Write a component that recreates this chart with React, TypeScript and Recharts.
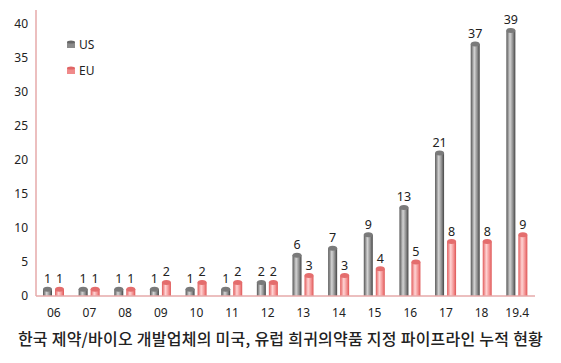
import React from "react";
import { BarChart, Bar, XAxis, YAxis, LabelList } from "recharts";

const categories = ["06", "07", "08", "09", "10", "11", "12", "13", "14", "15", "16", "17", "18", "19.4"];
const usValues = [1, 1, 1, 1, 1, 1, 2, 6, 7, 9, 13, 21, 37, 39];
const euValues = [1, 1, 1, 2, 2, 2, 2, 3, 3, 4, 5, 8, 8, 9];
const yTicks = [0, 5, 10, 15, 20, 25, 30, 35, 40];
const title = "한국 제약/바이오 개발업체의 미국, 유럽 희귀의약품 지정 파이프라인 누적 현황";

const data = categories.map((c, i) => ({ cat: c, US: usValues[i], EU: euValues[i] }));

const FONT = "'Noto Sans', 'DejaVu Sans', sans-serif";

const makeCylinder = (gradId: string, cap: string) => (props: any) => {
  const { x, y, width, height } = props;
  if (height == null || width == null) return null;
  const ry = 2.5;
  const cx = x + width / 2;
  return (
    <g>
      <rect x={x} y={y} width={width} height={Math.max(height, 0)} fill={`url(#${gradId})`} />
      <ellipse cx={cx} cy={y + height} rx={width / 2} ry={1.2} fill={`url(#${gradId})`} />
      <ellipse cx={cx} cy={y} rx={width / 2} ry={ry} fill={cap} />
    </g>
  );
};

const UsShape = makeCylinder("gradUS", "#7a7a7a");
const EuShape = makeCylinder("gradEU", "#e46d6d");

const LegendBox = () => (
  <div style={{ position: "absolute", left: 66, top: 36, fontFamily: FONT, fontSize: 12, color: "#222" }}>
    <div style={{ display: "flex", alignItems: "center", height: 16 }}>
      <svg width={10} height={8} style={{ marginRight: 3 }}>
        <rect x={1} y={2} width={8} height={6} fill="#8a8a8a" />
        <ellipse cx={5} cy={2} rx={4} ry={1.6} fill="#666" />
      </svg>
      <span>US</span>
    </div>
    <div style={{ display: "flex", alignItems: "center", height: 16, marginTop: 10 }}>
      <svg width={10} height={8} style={{ marginRight: 3 }}>
        <rect x={1} y={2} width={8} height={6} fill="#f08a8a" />
        <ellipse cx={5} cy={2} rx={4} ry={1.6} fill="#e06565" />
      </svg>
      <span>EU</span>
    </div>
  </div>
);

export default function App() {
  return (
    <div style={{ position: "relative", width: 561, height: 363, background: "#fff" }}>
      <style>{`body{margin:0;}`}</style>
      <BarChart
        width={561}
        height={363}
        data={data}
        margin={{ top: 10, right: 26, bottom: 42, left: 0 }}
        barSize={9}
        barGap={3}
        barCategoryGap={0}
      >
        <defs>
          <linearGradient id="gradUS" x1="0" y1="0" x2="1" y2="0">
            <stop offset="0%" stopColor="#555" />
            <stop offset="40%" stopColor="#d4d4d4" />
            <stop offset="75%" stopColor="#888" />
            <stop offset="100%" stopColor="#444" />
          </linearGradient>
          <linearGradient id="gradEU" x1="0" y1="0" x2="1" y2="0">
            <stop offset="0%" stopColor="#e25a5a" />
            <stop offset="40%" stopColor="#ffd4d4" />
            <stop offset="75%" stopColor="#f28e8e" />
            <stop offset="100%" stopColor="#de5555" />
          </linearGradient>
        </defs>
        <XAxis
          dataKey="cat"
          tickLine={false}
          axisLine={{ stroke: "#e6aaaa", strokeWidth: 1.5 }}
          tick={{ fontSize: 12, fill: "#222", fontFamily: FONT }}
          tickMargin={6}
          interval={0}
          height={25}
        />
        <YAxis
          domain={[0, 42]}
          ticks={yTicks}
          tickLine={false}
          axisLine={{ stroke: "#e6aaaa", strokeWidth: 1.5 }}
          tick={{ fontSize: 12, fill: "#222", fontFamily: FONT }}
          width={36}
          interval={0}
          allowDataOverflow
        />
        <Bar dataKey="US" shape={<UsShape />} fill="#888" isAnimationActive={false}>
          <LabelList dataKey="US" position="top" offset={6} style={{ fontSize: 12.5, fill: "#222", fontFamily: FONT }} />
        </Bar>
        <Bar dataKey="EU" shape={<EuShape />} fill="#f08a8a" isAnimationActive={false}>
          <LabelList dataKey="EU" position="top" offset={6} style={{ fontSize: 12.5, fill: "#222", fontFamily: FONT }} />
        </Bar>
      </BarChart>
      <LegendBox />
      <div
        style={{
          position: "absolute",
          left: 0,
          top: 326,
          width: 561,
          textAlign: "center",
          fontFamily: "'Noto Sans CJK KR', sans-serif",
          fontSize: 16,
          fontWeight: 500,
          letterSpacing: 0.25,
          color: "#222",
          whiteSpace: "nowrap",
        }}
      >
        {title}
      </div>
    </div>
  );
}
